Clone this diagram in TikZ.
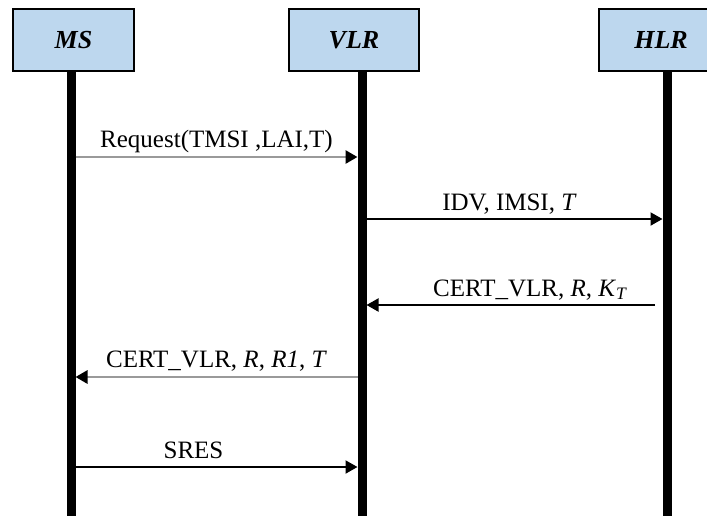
\documentclass[tikz,border=0pt]{standalone}
\usepackage{fontspec}
\setmainfont{Liberation Serif}
\usepackage{tikz}
\usetikzlibrary{arrows.meta,positioning}

\definecolor{boxblue}{HTML}{BDD7EE}
\definecolor{msggray}{HTML}{9A9A9A}

\begin{document}
\begin{tikzpicture}[
    x=0.5pt, y=-0.5pt,
    every node/.style={font=\fontsize{12.5}{14}\selectfont},
    entity/.style={rectangle, draw, line width=1.1pt, fill=boxblue,
        minimum width=62pt, minimum height=31pt, font=\fontsize{13}{14}\selectfont\bfseries\itshape},
    lifeline/.style={line width=4.5pt},
    msg/.style={line width=1pt, shorten <=2.25pt, shorten >=2.25pt,
        -{Triangle[length=6pt, width=6.5pt]}},
    graymsg/.style={msg, line width=1.4pt, draw=msggray,
        -{Triangle[length=6pt, width=6.5pt, color=black]}},
    lbl/.style={above, inner sep=1pt, text depth=3pt}
]
\useasboundingbox (0,0) rectangle (707,515);

\node[entity, minimum width=60.5pt] (MS) at (73.5,40) {MS};
\node[entity, minimum width=65pt] (VLR) at (354,40) {VLR};
\node[entity] (HLR) at (661,40) {HLR};

\coordinate (MSend) at (71,520);
\coordinate (VLRend) at (362,520);
\coordinate (HLRend) at (667,520);

\draw[lifeline] (MS.south -| MSend) -- (MSend);
\draw[lifeline] (VLR.south -| VLRend) -- (VLRend);
\draw[lifeline] (HLR.south -| HLRend) -- (HLRend);

\draw[graymsg] (MSend |- 0,157) -- node[lbl, text=black] {Request(TMSI ,LAI,T)} (VLRend |- 0,157);
\draw[msg] (VLRend |- 0,219) -- node[lbl, xshift=-2.5pt] {IDV, IMSI, \textit{T}} (HLRend |- 0,219);
\draw[msg, shorten <=6pt] (HLRend |- 0,305) -- node[lbl, xshift=8pt] {CERT\_VLR, \textit{R}, \textit{K}\textsubscript{\textit{T}}} (VLRend |- 0,305);
\draw[graymsg] (VLRend |- 0,377) -- node[lbl, text=black] {CERT\_VLR, \textit{R}, \textit{R1}, \textit{T}} (MSend |- 0,377);
\draw[msg] (MSend |- 0,467) -- node[lbl, xshift=-11.5pt] {SRES} (VLRend |- 0,467);
\end{tikzpicture}
\end{document}
